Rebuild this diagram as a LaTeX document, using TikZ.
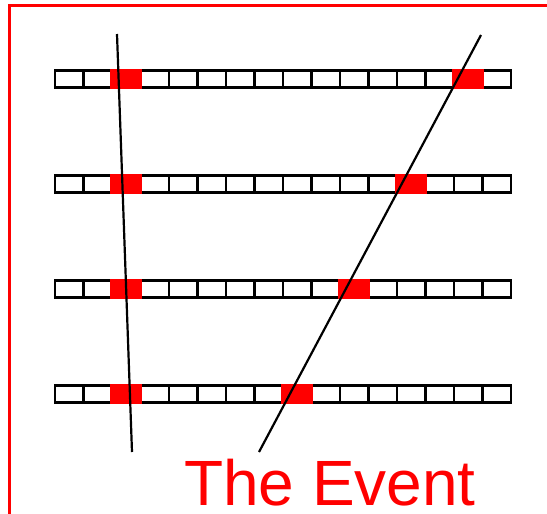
\documentclass[tikz,border=0pt]{standalone}
\usepackage{fontspec}
\setsansfont{Liberation Sans}
\usetikzlibrary{positioning}
\definecolor{hitred}{RGB}{255, 0, 0}

\begin{document}
\begin{tikzpicture}[x=1pt, y=-1pt,
    cell/.style={draw, line width=2.4pt, minimum width=28.5pt, minimum height=17pt, inner sep=0pt, outer sep=0pt},
    hit/.style={fill=hitred, minimum width=32pt, minimum height=19.5pt, inner sep=0pt},
    track/.style={line width=2.2pt}]
  \useasboundingbox (0,0) rectangle (547,514);
  \clip (0,0) rectangle (547,514);
  % frame
  \draw[hitred, line width=3pt] (9,5) rectangle (600,600);
  % detector layers
  \foreach \r in {1,...,4} {
    \foreach \i in {1,...,16}
      \node[cell] (c\r-\i) at ({55+(\i-0.5)*28.5}, {79+105*(\r-1)}) {};
  }
  % hit cells
  \foreach \r/\k in {1/15, 2/13, 3/11, 4/9} {
    \node[hit] (h\r-a) at (c\r-3) {};
    \node[hit] (h\r-b) at (c\r-\k) {};
  }
  % tracks
  \coordinate (ltop) at (117,34);
  \coordinate (lbot) at (132,452);
  \coordinate (rtop) at (481,35);
  \coordinate (rbot) at (259,452);
  \draw[track] (ltop) -- (lbot);
  \draw[track] (rtop) -- (rbot);
  % label
  \node[anchor=base, text=hitred, font=\sffamily\fontsize{64}{64}\selectfont, inner sep=0pt] (event) at (330,505) {The Event};
\end{tikzpicture}
\end{document}
